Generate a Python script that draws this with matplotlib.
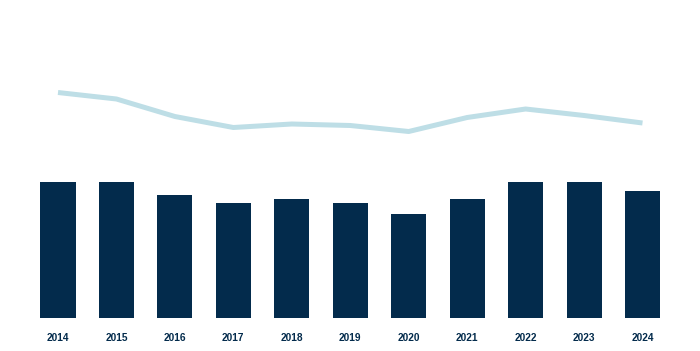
import matplotlib
matplotlib.use("Agg")
import matplotlib.pyplot as plt
from matplotlib import font_manager
import numpy as np

years = ["2014", "2015", "2016", "2017", "2018", "2019", "2020", "2021", "2022", "2023", "2024"]
bar_values = [136, 136, 123, 115, 119, 115, 104, 119, 136, 136, 127]
line_values = [225.5, 219, 201.5, 190.5, 194, 192.5, 186.5, 200.5, 209, 202.5, 195]

navy = "#032B4C"
light = "#BEDEE6"

fp = font_manager.FontProperties(family=["Liberation Sans", "DejaVu Sans"], weight="bold", size=7.3)

fig = plt.figure(figsize=(7.0, 3.51), dpi=100)
ax = fig.add_axes([0, 33 / 351, 1, 318 / 351])
x = np.arange(len(years))
ax.bar(x, bar_values, width=0.6, color=navy, zorder=2)
ax.plot(x, line_values, color=light, linewidth=3.6, solid_capstyle="butt", zorder=3)
spacing = 58.45
ax.set_xlim(-58 / spacing, 10 + (700 - 642.5) / spacing)
ax.set_ylim(0, 318)
for xi, label in zip(x, years):
    ax.text(xi, -20, label, ha="center", va="center", fontproperties=fp,
            color=navy, clip_on=False)
ax.axis("off")
fig.savefig("out.png", dpi=100)
